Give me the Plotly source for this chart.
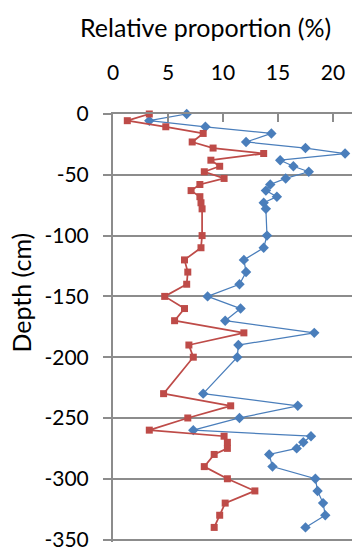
import plotly.graph_objects as go

depth = [0, -5.5, -10.5, -16, -23, -28, -32.5, -38, -43, -47.5, -53, -58, -63, -68, -73, -78,
         -100, -110, -120, -130, -140, -150, -160, -170, -180, -190, -200,
         -230, -240, -250, -260, -265, -270, -275, -280, -290, -300, -310, -320, -330, -340]

blue_vals = [6.7, 3.3, 8.4, 14.4, 12.1, 17.5, 21.1, 15.2, 16.4, 17.8, 15.7, 14.3, 13.9, 14.9, 13.7, 13.9,
             14.0, 13.7, 11.9, 12.1, 11.5, 8.6, 11.6, 10.2, 18.3, 11.4, 11.3,
             8.2, 16.8, 11.5, 7.3, 18.0, 17.3, 16.7, 14.2, 14.5, 18.4, 18.6, 19.1, 19.3, 17.5]

red_vals = [3.3, 1.3, 4.8, 8.2, 7.2, 9.1, 13.7, 8.9, 9.7, 8.3, 10.1, 7.9, 7.1, 7.9, 8.0, 8.1,
            8.1, 8.0, 6.5, 6.8, 6.7, 4.7, 6.5, 5.6, 11.9, 6.9, 7.3,
            4.6, 10.7, 6.8, 3.3, 10.1, 10.4, 10.4, 9.2, 8.3, 10.4, 12.9, 10.2, 9.7, 9.2]

x_ticks = [0, 5, 10, 15, 20]
y_ticks = [0, -50, -100, -150, -200, -250, -300, -350]
y_tick_labels = ["0", "-50", "-100", "-150", "-200", "-250", "-300", "-350"]

FONT = "Lato"
GRID = "#8c8c8c"

Y_MIN = -352
PX_PER_UNIT = 1.2151
PLOT_H = -Y_MIN * PX_PER_UNIT
TOP = 114

fig = go.Figure()
fig.add_trace(go.Scatter(x=blue_vals, y=depth, mode="lines+markers",
                         line=dict(color="#4A7EBB", width=1.25),
                         marker=dict(symbol="diamond", size=8, color="#4A7EBB"),
                         showlegend=False, cliponaxis=False))
fig.add_trace(go.Scatter(x=red_vals, y=depth, mode="lines+markers",
                         line=dict(color="#BE4B48", width=1.75),
                         marker=dict(symbol="square", size=7, color="#BE4B48"),
                         showlegend=False, cliponaxis=False))

fig.update_layout(
    width=352, height=548,
    margin=dict(l=113, r=0, t=TOP, b=548 - TOP - PLOT_H),
    paper_bgcolor="white", plot_bgcolor="white",
    font=dict(family=FONT, size=21, color="black"),
    annotations=[
        dict(text="Relative proportion (%)", xref="paper", yref="paper",
             x=(205 - 113) / 239, y=1 + (TOP - 27) / PLOT_H, showarrow=False,
             font=dict(family=FONT, size=25), xanchor="center", yanchor="middle"),
        dict(text="Depth (cm)", xref="paper", yref="paper",
             x=-(113 - 21) / 239, y=(TOP + PLOT_H - 292.5) / PLOT_H, showarrow=False, textangle=-90,
             font=dict(family=FONT, size=25), xanchor="center", yanchor="middle"),
    ],
)
fig.update_xaxes(range=[0, 21.73], side="top", tickvals=x_ticks,
                 ticks="inside", ticklen=8, tickcolor=GRID, tickwidth=2,
                 showline=True, linecolor=GRID, linewidth=2, automargin=False,
                 showgrid=False, zeroline=False, ticklabelstandoff=24,
                 ticklabeloverflow="allow")
fig.update_yaxes(range=[Y_MIN, 0], tickvals=y_ticks, ticktext=y_tick_labels,
                 ticks="outside", ticklen=8, tickcolor=GRID, tickwidth=2,
                 showline=True, linecolor=GRID, linewidth=2, automargin=False,
                 showgrid=True, gridcolor=GRID, gridwidth=2, zeroline=False,
                 ticklabelstandoff=10, ticklabeloverflow="allow")

fig.write_html("out.html", config={"displayModeBar": False},
               post_script="document.body.style.margin='0';document.body.style.overflow='hidden';")
